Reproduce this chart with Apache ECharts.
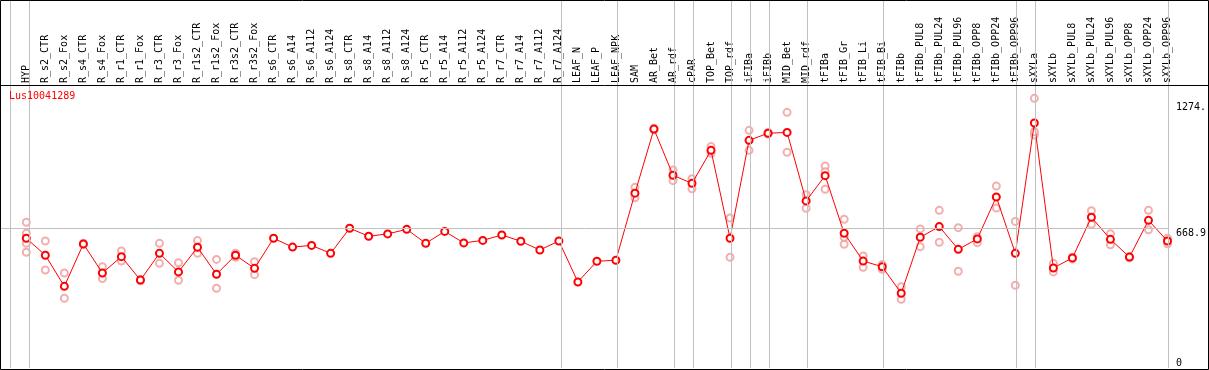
<!DOCTYPE html>
<html><head><meta charset="utf-8">
<script src="https://cdn.jsdelivr.net/npm/echarts@6/dist/echarts.min.js"></script>
<style>html,body{margin:0;padding:0;background:#fff}#c{width:1209px;height:370px}</style>
</head><body><div id="c"></div>
<script>
const title = 'Lus10041289';
const categories = ['HYP','R_s2_CTR','R_s2_Fox','R_s4_CTR','R_s4_Fox','R_r1_CTR','R_r1_Fox','R_r3_CTR','R_r3_Fox','R_r1s2_CTR','R_r1s2_Fox','R_r3s2_CTR','R_r3s2_Fox','R_s6_CTR','R_s6_A14','R_s6_A112','R_s6_A124','R_s8_CTR','R_s8_A14','R_s8_A112','R_s8_A124','R_r5_CTR','R_r5_A14','R_r5_A112','R_r5_A124','R_r7_CTR','R_r7_A14','R_r7_A112','R_r7_A124','LEAF_N','LEAF_P','LEAF_NPK','SAM','AR_Bet','AR_rdf','cPAR','TOP_Bet','TOP_rdf','iFIBa','iFIBb','MID_Bet','MID_rdf','tFIBa','tFIB_Gr','tFIB_Li','tFIB_Bi','tFIBb','tFIBb_PUL8','tFIBb_PUL24','tFIBb_PUL96','tFIBb_OPP8','tFIBb_OPP24','tFIBb_OPP96','sXYLa','sXYLb','sXYLb_PUL8','sXYLb_PUL24','sXYLb_PUL96','sXYLb_OPP8','sXYLb_OPP24','sXYLb_OPP96'];
const means = [621,540,391,594,455,533,421,549,460,578,449,540,477,621,579,587,549,669,631,642,664,597,654,599,611,637,607,565,608,412,511,516,837,1144,923,884,1042,621,1090,1124,1128,800,921,645,512,485,358,626,677,568,618,819,549,1173,479,527,722,616,531,707,608];
const rep1 = [698,608,455,597,485,560,424,597,504,610,520,550,509,null,null,null,null,null,null,null,null,null,null,null,null,null,null,null,null,null,null,null,865,1148,948,906,1060,718,1138,1128,1224,830,967,712,536,495,389,666,755,672,629,871,702,1291,501,530,753,643,534,755,621];
const rep2 = [645,469,334,591,428,512,418,501,420,549,382,530,447,null,null,null,null,null,null,null,null,null,null,null,null,null,null,null,null,null,null,null,815,1140,897,858,1028,530,1042,1120,1033,765,856,592,482,473,329,581,602,463,600,766,396,1116,460,522,688,590,528,662,595];
const rep3 = [597,null,null,null,null,null,null,null,null,null,null,null,null,null,null,null,null,null,null,null,null,null,null,null,null,null,null,null,null,null,null,null,null,null,null,null,null,null,null,null,null,null,940,626,null,null,null,null,null,null,null,null,null,1131,null,null,null,null,null,null,null];
const rep4 = [554,null,null,null,null,null,null,null,null,null,null,null,null,null,null,null,null,null,null,null,null,null,null,null,null,null,null,null,null,null,null,null,null,null,null,null,null,null,null,null,null,null,null,null,null,null,null,null,null,null,null,null,null,null,null,null,null,null,null,null,null];
const groupEnds = [-1,0,28,31,34,35,37,38,39,41,45,52,53,60];
const refValue = 668.9;
const yTickValues = [0, 668.9, 1274];
const yTickLabels = ['0', '668.9', '1274.'];

const FONT = 'DejaVu Sans Mono';
const SEP_OFFSET = 0.18;
const replicates = [];
[rep1, rep2, rep3, rep4].forEach(arr => arr.forEach((v, i) => { if (v != null) replicates.push([i, v]); }));
const fmtY = v => { const i = yTickValues.findIndex(t => Math.abs(t - v) < 1e-6); return i >= 0 ? yTickLabels[i] : ''; };

const chart = echarts.init(document.getElementById('c'), null, {renderer: 'canvas'});
chart.setOption({
  animation: false,
  backgroundColor: '#fff',
  title: {text: title, left: 9, top: 91, padding: 0,
    textStyle: {color: '#ff0000', fontSize: 10, fontWeight: 'normal', fontFamily: FONT}},
  grid: [
    {left: 16.8, right: 32, top: 86, bottom: 2},
    {left: 1, right: 38.1, top: 0, bottom: 2}
  ],
  xAxis: [
    {type: 'category', gridIndex: 0, data: categories, position: 'top', boundaryGap: true,
      axisLine: {show: false}, axisTick: {show: false}, splitLine: {show: false},
      axisLabel: {interval: 0, rotate: 90, margin: 3, fontSize: 10, fontFamily: FONT, color: '#000'}},
    {type: 'value', gridIndex: 1, min: -1.33, max: 60.18, show: false}
  ],
  yAxis: [
    {type: 'value', gridIndex: 0, min: 0, max: 1350.2, show: false},
    {type: 'value', gridIndex: 1, min: 0, max: 1762, position: 'right',
      axisLine: {show: false}, axisTick: {show: false}, splitLine: {show: false},
      axisLabel: {customValues: yTickValues.slice(1), formatter: fmtY, margin: 8, verticalAlign: 'top',
        fontSize: 10, fontFamily: FONT, color: '#000'}},
    {type: 'value', gridIndex: 1, min: 0, max: 1762, position: 'right',
      axisLine: {show: false}, axisTick: {show: false}, splitLine: {show: false},
      axisLabel: {customValues: yTickValues.slice(0, 1), formatter: fmtY, margin: 8, verticalAlign: 'bottom',
        fontSize: 10, fontFamily: FONT, color: '#000'}}
  ],
  series: [
    {type: 'line', xAxisIndex: 1, yAxisIndex: 1, data: [], clip: false, silent: true,
      markLine: {silent: true, symbol: ['none', 'none'], label: {show: false},
        lineStyle: {color: '#c0c0c0', width: 1, type: 'solid'},
        emphasis: {disabled: true},
        data: groupEnds.map(k => ({xAxis: k + SEP_OFFSET})).concat([{yAxis: refValue}])}},
    {type: 'scatter', xAxisIndex: 0, yAxisIndex: 0, data: replicates, symbol: 'emptyCircle', symbolSize: 7,
      itemStyle: {color: '#f09a9a', borderWidth: 1.1}, z: 3},
    {type: 'line', xAxisIndex: 0, yAxisIndex: 0, data: means, symbol: 'emptyCircle', symbolSize: 7,
      lineStyle: {color: '#ff0000', width: 1}, itemStyle: {color: '#ff0000', borderWidth: 1.3}, z: 4}
  ],
  graphic: [
    {type: 'rect', shape: {x: 0.5, y: 0.5, width: 1208, height: 369}, style: {fill: null, stroke: '#000', lineWidth: 1}, z: 100, silent: true},
    {type: 'line', shape: {x1: 0, y1: 85.5, x2: 1209, y2: 85.5}, style: {stroke: '#000', lineWidth: 1}, z: 100, silent: true}
  ]
});
</script></body></html>
